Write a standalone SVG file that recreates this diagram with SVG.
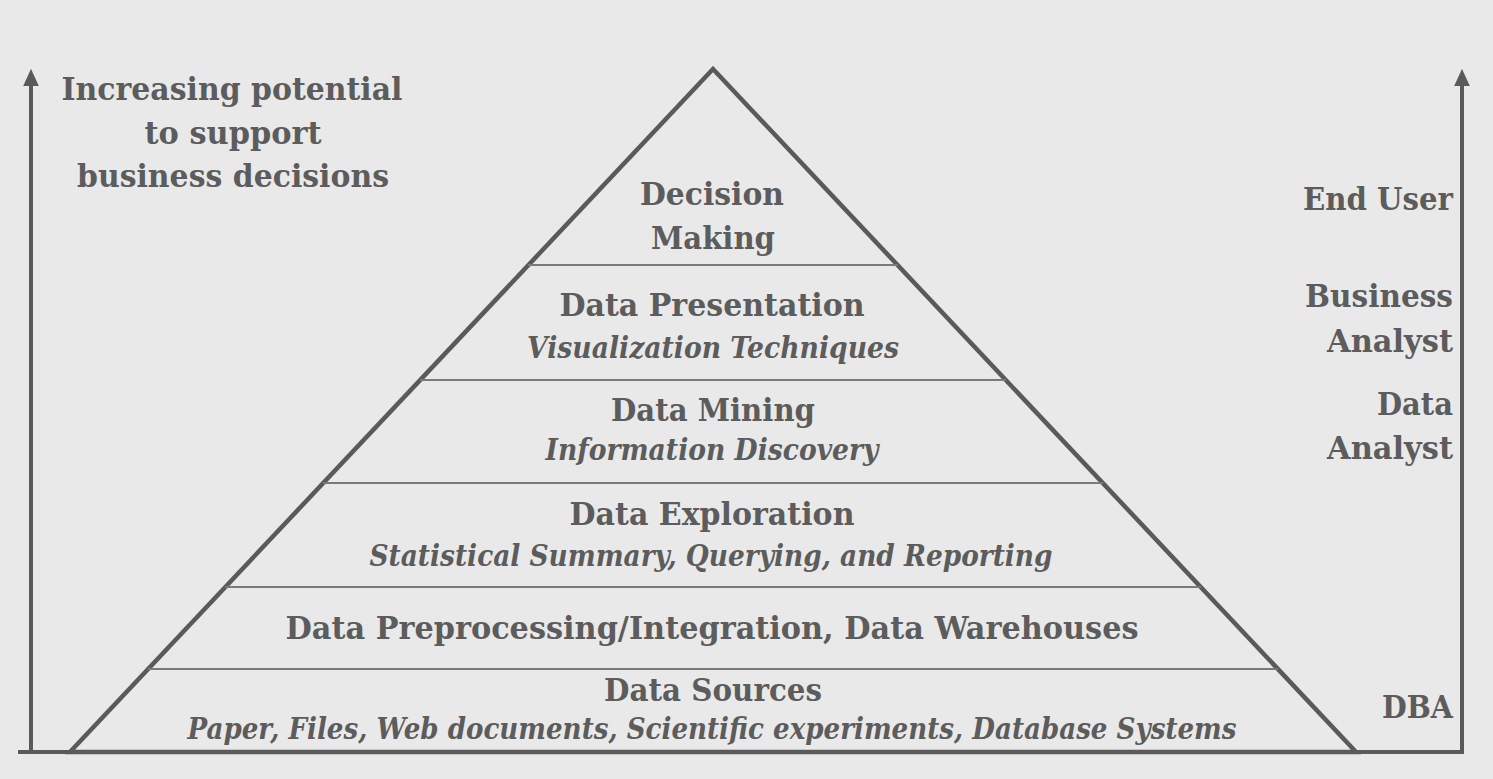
<svg xmlns="http://www.w3.org/2000/svg" width="1493" height="779" viewBox="0 0 1493 779">
<style>
.b{font-family:"DejaVu Serif","Liberation Serif",serif;font-weight:bold;font-size:31.5px;fill:#5c5c5c}
.i{font-family:"DejaVu Serif","Liberation Serif",serif;font-weight:bold;font-style:italic;font-size:29px;fill:#5c5c5c}
.m{text-anchor:middle}
.e{text-anchor:end}
.ax{stroke:#5a5a5a;stroke-width:4;fill:none}
.dv{stroke:#7a7a7a;stroke-width:2}
</style>
<defs>
<marker id="ah" markerWidth="4.4" markerHeight="4" refX="1.6" refY="2" orient="auto" markerUnits="strokeWidth">
<path d="M0,0 L4.4,2 L0,4 z" fill="#5a5a5a"/>
</marker>
</defs>
<rect width="1493" height="779" fill="#e9e9e9"/>
<g id="connectors">
<line class="ax" x1="31" y1="752" x2="31" y2="80" marker-end="url(#ah)"/>
<line class="ax" x1="1462" y1="752" x2="1462" y2="80" marker-end="url(#ah)"/>
<line class="ax" x1="18" y1="752" x2="1464" y2="752"/>
</g>
<g id="pyramid">
<polygon points="713,69 70,752 1356,752" fill="none" stroke="#5a5a5a" stroke-width="4.5" stroke-linejoin="miter"/>
<line class="dv" x1="528" y1="265" x2="898" y2="265"/>
<line class="dv" x1="420" y1="380" x2="1006" y2="380"/>
<line class="dv" x1="323" y1="483" x2="1103" y2="483"/>
<line class="dv" x1="225" y1="587" x2="1201" y2="587"/>
<line class="dv" x1="148" y1="669" x2="1278" y2="669"/>
</g>
<g id="axis-label">
<text class="b m" x="232" y="100" textLength="341" lengthAdjust="spacingAndGlyphs">Increasing potential</text>
<text class="b m" x="233" y="144" textLength="177" lengthAdjust="spacingAndGlyphs">to support</text>
<text class="b m" x="233" y="187" textLength="312" lengthAdjust="spacingAndGlyphs">business decisions</text>
</g>
<g id="decision-making">
<text class="b m" x="712" y="205" textLength="144" lengthAdjust="spacingAndGlyphs">Decision</text>
<text class="b m" x="713" y="249" textLength="124" lengthAdjust="spacingAndGlyphs">Making</text>
</g>
<g id="data-presentation">
<text class="b m" x="712" y="316" textLength="305" lengthAdjust="spacingAndGlyphs">Data Presentation</text>
<text class="i m" x="713" y="358" textLength="372" lengthAdjust="spacingAndGlyphs">Visualization Techniques</text>
</g>
<g id="data-mining">
<text class="b m" x="713" y="421" textLength="204" lengthAdjust="spacingAndGlyphs">Data Mining</text>
<text class="i m" x="712" y="460" textLength="333" lengthAdjust="spacingAndGlyphs">Information Discovery</text>
</g>
<g id="data-exploration">
<text class="b m" x="712" y="525" textLength="285" lengthAdjust="spacingAndGlyphs">Data Exploration</text>
<text class="i m" x="711" y="566" textLength="683" lengthAdjust="spacingAndGlyphs">Statistical Summary, Querying, and Reporting</text>
</g>
<g id="data-preprocessing">
<text class="b m" x="712" y="639" textLength="853" lengthAdjust="spacingAndGlyphs">Data Preprocessing/Integration, Data Warehouses</text>
</g>
<g id="data-sources">
<text class="b m" x="713" y="701" textLength="218" lengthAdjust="spacingAndGlyphs">Data Sources</text>
<text class="i m" x="712" y="739" textLength="1049" lengthAdjust="spacingAndGlyphs">Paper, Files, Web documents, Scientific experiments, Database Systems</text>
</g>
<g id="roles">
<text class="b e" x="1453" y="210" textLength="150" lengthAdjust="spacingAndGlyphs">End User</text>
<text class="b e" x="1453" y="307" textLength="148" lengthAdjust="spacingAndGlyphs">Business</text>
<text class="b e" x="1453" y="352" textLength="126" lengthAdjust="spacingAndGlyphs">Analyst</text>
<text class="b e" x="1453" y="415" textLength="76" lengthAdjust="spacingAndGlyphs">Data</text>
<text class="b e" x="1453" y="459" textLength="126" lengthAdjust="spacingAndGlyphs">Analyst</text>
<text class="b e" x="1453" y="718" textLength="71" lengthAdjust="spacingAndGlyphs">DBA</text>
</g>
</svg>
